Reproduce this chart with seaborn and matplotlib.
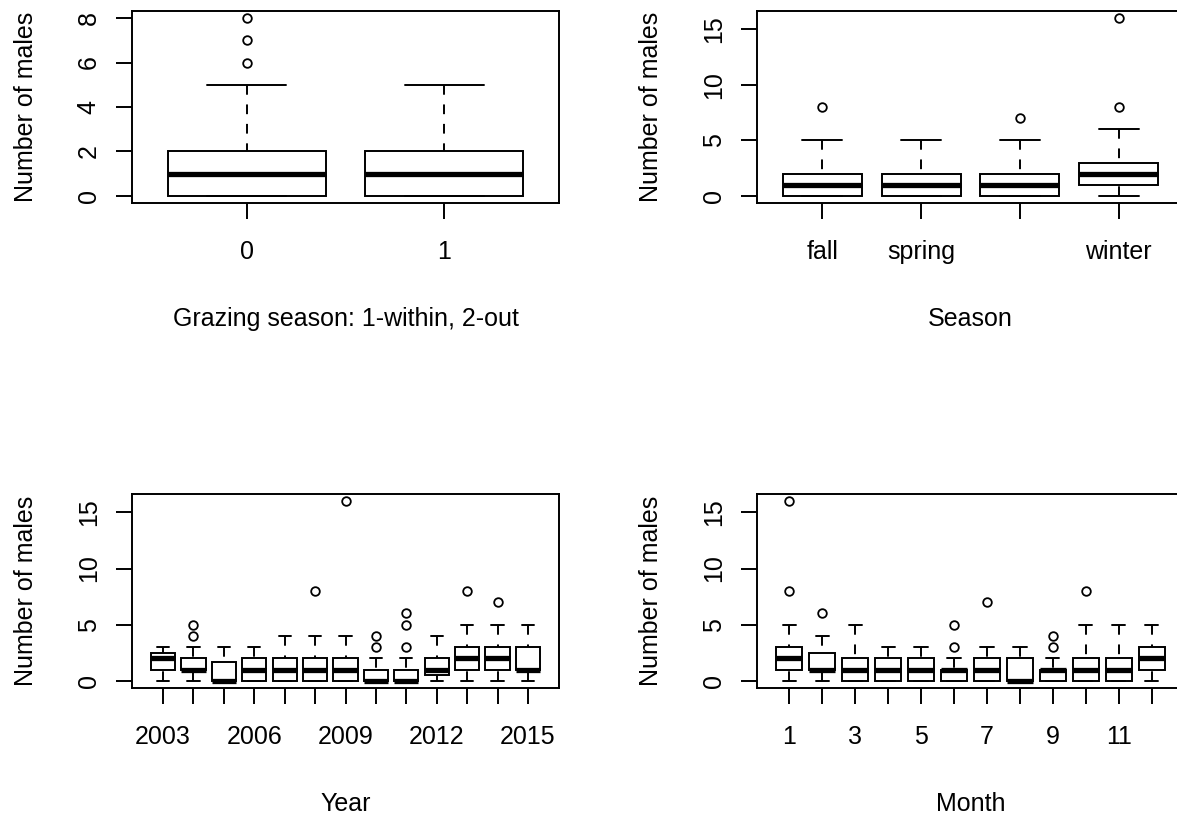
import numpy as np
import pandas as pd
import matplotlib
matplotlib.use("Agg")
import matplotlib.pyplot as plt
import seaborn as sns

# ---------------- data ----------------
# Panel 1: grazing season
graze_groups = ["0", "1"]
graze_ticklabels = ["0", "1"]
graze_lo = [0, 0]
graze_q1 = [0, 0]
graze_med = [1, 1]
graze_q3 = [2, 2]
graze_hi = [5, 5]
graze_out = [[6, 7, 8], []]
graze_yticks = [0, 2, 4, 6, 8]

# Panel 2: season
season_groups = ["fall", "spring", "summer", "winter"]
season_ticklabels = ["fall", "spring", "", "winter"]
season_lo = [0, 0, 0, 0]
season_q1 = [0, 0, 0, 1]
season_med = [1, 1, 1, 2]
season_q3 = [2, 2, 2, 3]
season_hi = [5, 5, 5, 6]
season_out = [[8], [], [7], [8, 16]]

# Panel 3: year
year_groups = ["2003", "2004", "2005", "2006", "2007", "2008", "2009",
               "2010", "2011", "2012", "2013", "2014", "2015"]
year_ticklabels = ["2003", "", "", "2006", "", "", "2009",
                   "", "", "2012", "", "", "2015"]
year_lo = [0, 0, 0, 0, 0, 0, 0, 0, 0, 0, 0, 0, 0]
year_q1 = [1, 1, 0, 0, 0, 0, 0, 0, 0, 0.5, 1, 1, 1]
year_med = [2, 1, 0, 1, 1, 1, 1, 0, 0, 1, 2, 2, 1]
year_q3 = [2.5, 2, 1.7, 2, 2, 2, 2, 1, 1, 2, 3, 3, 3]
year_hi = [3, 3, 3, 3, 4, 4, 4, 2, 2, 4, 5, 5, 5]
year_out = [[], [4, 5], [], [], [], [8], [16], [3, 4], [3, 5, 6], [], [8], [7], []]

# Panel 4: month
month_groups = ["1", "2", "3", "4", "5", "6", "7", "8", "9", "10", "11", "12"]
month_ticklabels = ["1", "", "3", "", "5", "", "7", "", "9", "", "11", ""]
month_lo = [0, 0, 0, 0, 0, 0, 0, 0, 0, 0, 0, 0]
month_q1 = [1, 1, 0, 0, 0, 0, 0, 0, 0, 0, 0, 1]
month_med = [2, 1, 1, 1, 1, 1, 1, 0, 1, 1, 1, 2]
month_q3 = [3, 2.5, 2, 2, 2, 1, 2, 2, 1, 2, 2, 3]
month_hi = [5, 4, 5, 3, 3, 2, 3, 3, 2, 5, 5, 5]
month_out = [[8, 16], [6], [], [], [], [3, 5], [7], [], [3, 4], [8], [], []]

big_yticks = [0, 5, 10, 15]
ylabel_text = "Number of males"


def build_table(groups, lo, q1, med, q3, hi, out):
    rows = []
    for g, a, b, c, d, e, o in zip(groups, lo, q1, med, q3, hi, out):
        sample = [a] + [b] * 10 + [c] * 10 + [d] * 10 + [e] + list(o)
        rows += [(g, v) for v in sample]
    return pd.DataFrame(rows, columns=["group", "value"])


panels = [
    dict(df=build_table(graze_groups, graze_lo, graze_q1, graze_med, graze_q3, graze_hi, graze_out),
         groups=graze_groups, ticklabels=graze_ticklabels, yticks=graze_yticks,
         ymax=8, xlabel="Grazing season: 1-within, 2-out", box=(132, 11, 559, 203)),
    dict(df=build_table(season_groups, season_lo, season_q1, season_med, season_q3, season_hi, season_out),
         groups=season_groups, ticklabels=season_ticklabels, yticks=big_yticks,
         ymax=16, xlabel="Season", box=(757, 11, 1184, 203)),
    dict(df=build_table(year_groups, year_lo, year_q1, year_med, year_q3, year_hi, year_out),
         groups=year_groups, ticklabels=year_ticklabels, yticks=big_yticks,
         ymax=16, xlabel="Year", box=(132, 494, 559, 688)),
    dict(df=build_table(month_groups, month_lo, month_q1, month_med, month_q3, month_hi, month_out),
         groups=month_groups, ticklabels=month_ticklabels, yticks=big_yticks,
         ymax=16, xlabel="Month", box=(757, 494, 1184, 688)),
]

# ---------------- style ----------------
sns.set_theme(style="white")
plt.rcParams["font.family"] = ["Liberation Sans", "DejaVu Sans"]
plt.rcParams["font.size"] = 18
plt.rcParams["text.color"] = "black"
plt.rcParams["axes.labelcolor"] = "black"

W, H = 1177, 816
fig = plt.figure(figsize=(W / 100, H / 100), dpi=100)
fig.patch.set_facecolor("white")

LW = 1.4
DASH = (0, (5, 5))
for p in panels:
    x0, y0, x1, y1 = p["box"]
    pw, ph = x1 - x0, y1 - y0
    ax = fig.add_axes([x0 / W, 1 - y1 / H, pw / W, ph / H])
    sns.boxplot(
        data=p["df"], x="group", y="value", order=p["groups"], ax=ax,
        color="white", linecolor="black", linewidth=LW, width=0.8, whis=1.5,
        saturation=1,
        medianprops=dict(linewidth=3.8, color="black", solid_capstyle="butt"),
        whiskerprops=dict(linestyle=DASH, linewidth=LW, color="black"),
        capprops=dict(linewidth=LW, color="black"),
        boxprops=dict(linewidth=LW, edgecolor="black", facecolor="white"),
        flierprops=dict(marker="o", markerfacecolor="none", markeredgecolor="black",
                        markersize=6.2, markeredgewidth=1.3),
    )
    # R draws whiskers from the staple towards the box: start dashes at the cap
    for ln in ax.lines:
        ls = ln.get_linestyle()
        if ls not in ("-", "None", "", " ") and ln.get_marker() in ("None", None, ""):
            xd, yd = ln.get_data()
            ln.set_data(np.asarray(xd)[::-1], np.asarray(yd)[::-1])

    n = len(p["groups"])
    ax.set_xlim(-0.5 - 0.04 * n, n - 0.5 + 0.04 * n)
    ym = p["ymax"]
    ax.set_ylim(-0.04 * ym, ym * 1.04)
    ax.set_xticks(range(n))
    ax.set_xticklabels(p["ticklabels"])
    ax.set_yticks(p["yticks"])
    ax.set_yticklabels([str(v) for v in p["yticks"]])
    for s in ax.spines.values():
        s.set_visible(True)
        s.set_linewidth(LW)
        s.set_color("black")
    ax.tick_params(direction="out", length=11.5, width=LW, colors="black",
                   labelsize=18, bottom=True, left=True, top=False, right=False)
    ax.tick_params(axis="x", pad=15)
    ax.tick_params(axis="y", pad=11, labelrotation=90)
    for lbl in ax.get_yticklabels():
        lbl.set_va("center")
    ax.grid(False)

    ax.set_xlabel(p["xlabel"], fontsize=18)
    ax.xaxis.label.set_va("baseline")
    ax.xaxis.set_label_coords(0.5, -(123) / ph)
    ax.set_ylabel(ylabel_text, fontsize=18)
    ax.yaxis.label.set_va("baseline")
    ax.yaxis.set_label_coords(-99 / pw, 0.5)

fig.savefig("out.png", dpi=100, facecolor="white")
